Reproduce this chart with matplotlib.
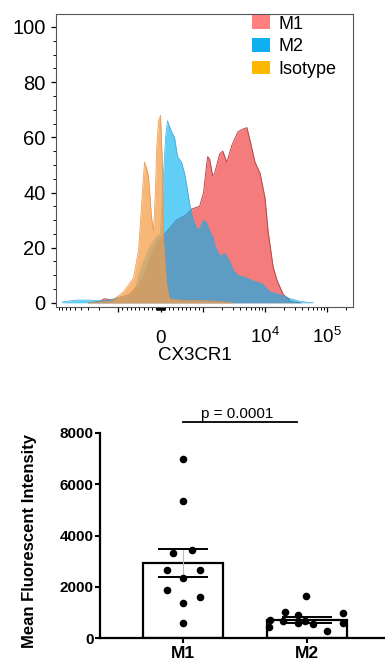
import numpy as np
import matplotlib
matplotlib.use("Agg")
import matplotlib.pyplot as plt
from matplotlib.patches import Patch
from matplotlib.ticker import FixedLocator, FixedFormatter, MultipleLocator

plt.rcParams['font.family'] = ['Liberation Sans', 'DejaVu Sans']

# --- histogram (CX3CR1 fluorescence, % of max) ---
m1_x = [-3000, -2000, -1660, -1280, -967, -730, -495, -377, -259, -141, -24, 47, 377, 613, 730, 920,
        1020, 1140, 1190, 1280, 1430, 1540, 1860, 2080, 2420, 2910, 3650, 4400, 5110, 5710, 6890,
        8310, 10000, 11200, 13500, 15700, 19700, 23700, 25600, 37200]
m1_y = [0, 0.5, 1.5, 1, 2, 3, 7, 10, 15, 20, 23, 24, 30, 32, 34, 35,
        40, 50, 53, 52, 46, 47, 54, 55, 51, 57, 62, 63, 63.5, 59, 51,
        47, 38, 26, 13, 8, 3, 1.5, 0.5, 0]

m2_x = [-8000, -4740, -2910, -2000, -1380, -967, -730, -613, -448, -259, -94, 0, 47, 118, 165, 212,
        259, 330, 400, 495, 565, 613, 684, 754, 849, 920, 1020, 1140, 1280, 1430, 1540, 1860, 2240,
        2700, 3030, 3650, 5110, 6400, 8950, 12100, 17600, 25600, 37200, 60500]
m2_y = [0.3, 1, 1, 0.8, 1, 2, 3, 4, 13, 20, 24, 25, 40, 60, 66, 64,
        62, 60, 53, 51, 47, 43, 36, 31, 27, 27, 30, 29, 26, 24, 21, 17, 18,
        15, 12, 10, 9, 8, 7, 4, 3, 1.5, 0.5, 0]

iso_x = [-3000, -2000, -1280, -872, -636, -518, -448, -377, -330, -283, -212, -165, -118, -94, -47,
         0, 47, 71, 141, 212, 448, 990, 2000, 3030]
iso_y = [0, 0.3, 0.5, 4, 9, 19, 35, 51, 49, 46, 31, 26, 41, 55, 66,
         68, 50, 23, 7, 1.5, 1, 0.8, 0.5, 0]

hist_labels = ['M1', 'M2', 'Isotype']
hist_colors = ['#FF8080', '#10B0F0', '#FFB800']

# --- MFI bar chart ---
groups = ['M1', 'M2']
bar_means = [2930, 700]
bar_sem = [545, 120]
m1_vals = [7000, 5330, 3330, 3440, 2660, 2660, 2330, 1870, 1610, 1380, 600]
m1_jit = [0, 0, -0.08, 0.07, -0.13, 0.14, 0, -0.13, 0.14, 0, 0]
m2_vals = [1640, 1030, 700, 440, 680, 900, 570, 680, 550, 270, 960, 570]
m2_jit = [-0.01, -0.18, -0.30, -0.31, -0.19, -0.07, -0.07, -0.02, 0.05, 0.16, 0.29, 0.29]
p_text = 'p = 0.0001'

fig = plt.figure(figsize=(3.85, 6.63), dpi=100)

# ---------------- top: histogram ----------------
ax1 = fig.add_axes([56/385, 1-307/663, 297/385, 293/663])
ax1.set_xscale('symlog', linthresh=1000, linscale=0.617)
ax1.fill_between(m1_x, 0, m1_y, color='#F47C7C', lw=0, zorder=1)
ax1.plot(m1_x, m1_y, color='#B84848', lw=0.7, zorder=1.5)
ax1.fill_between(m2_x, 0, m2_y, color='#00B0F0', alpha=0.62, lw=0, zorder=2)
ax1.plot(m2_x, m2_y, color='#3AA8DA', lw=0.5, zorder=2.5)
ax1.fill_between(iso_x, 0, iso_y, color='#F5A04A', alpha=0.75, lw=0, zorder=3)
ax1.plot(iso_x, iso_y, color='#E8934A', lw=0.5, zorder=3.5)
ax1.set_xlim(-10000, 262144)
ax1.set_ylim(-1.5, 104.7)

major = [-1000, 0, 1000, 10000, 100000]
ax1.xaxis.set_major_locator(FixedLocator(major))
ax1.xaxis.set_major_formatter(FixedFormatter(['', '0', '', r'$\mathregular{10^4}$', r'$\mathregular{10^5}$']))
minor = []
for e in (1, 2):
    for k in range(1, 10):
        minor += [k * 10**e, -k * 10**e]
for k in range(2, 10):
    minor += [k * 1000, -k * 1000, k * 10000]
minor += [200000]
ax1.xaxis.set_minor_locator(FixedLocator(minor))
ax1.tick_params(axis='x', which='major', length=3.8, width=0.9, direction='out', labelsize=13.5, pad=22)
ax1.tick_params(axis='x', which='minor', length=2.2, width=0.7, direction='out')
plt.setp(ax1.get_xticklabels(), va='baseline')

ax1.set_yticks([0, 20, 40, 60, 80, 100])
ax1.yaxis.set_minor_locator(MultipleLocator(5))
ax1.tick_params(axis='y', which='major', length=3.5, width=0.9, direction='out', labelsize=14.5, pad=4)
ax1.tick_params(axis='y', which='minor', length=2, width=0.7, direction='out')
for s in ax1.spines.values():
    s.set_color('#555555')
    s.set_linewidth(0.8)

ax1.set_xlabel('CX3CR1', fontsize=13.5)
ax1.xaxis.set_label_coords(0.468, -0.137)
ax1.xaxis.label.set_va('top')

handles = [Patch(facecolor=c, label=l) for c, l in zip(hist_colors, hist_labels)]
ax1.legend(handles=handles, loc='upper left', bbox_to_anchor=(0.66, 0.995), frameon=False,
           fontsize=13, handlelength=1.0, handleheight=0.8, handletextpad=0.45,
           labelspacing=0.3, borderpad=0, borderaxespad=0)

# ---------------- bottom: bar chart ----------------
ax2 = fig.add_axes([100/385, 25/663, 1-100/385, 205/663])
xpos = np.arange(len(groups))
ax2.bar(xpos, bar_means, width=0.64, color='white', edgecolor='black', linewidth=1.6, zorder=1)
ax2.errorbar(xpos, bar_means, yerr=bar_sem, fmt='none', ecolor='#bbbbbb', elinewidth=0.8, capsize=0, zorder=2)
for x, m, s in zip(xpos, bar_means, bar_sem):
    ax2.hlines([m + s, m - s], x - 0.2, x + 0.2, color='black', lw=1.4, zorder=2.5)
ax2.scatter(xpos[0] + np.array(m1_jit), m1_vals, s=30, color='black', zorder=3, linewidths=0)
ax2.scatter(xpos[1] + np.array(m2_jit), m2_vals, s=30, color='black', zorder=3, linewidths=0)

ax2.set_xlim(-0.669, 1.629)
ax2.set_ylim(0, 8000)
ax2.spines['top'].set_visible(False)
ax2.spines['right'].set_visible(False)
ax2.spines['left'].set_linewidth(1.6)
ax2.spines['bottom'].set_linewidth(1.6)
ax2.set_yticks([0, 2000, 4000, 6000, 8000])
ax2.set_xticks(xpos)
ax2.set_xticklabels(groups, fontsize=12.5, fontweight='bold')
ax2.tick_params(axis='y', length=3.6, width=1.5, labelsize=11, pad=1)
ax2.tick_params(axis='x', length=3.6, width=1.5, pad=2)
for lab in ax2.get_yticklabels():
    lab.set_fontweight('bold')

ax2.plot([0, 0.92], [8430, 8430], color='black', lw=1.3, clip_on=False)
ax2.text(0.44, 8740, p_text, ha='center', va='center', fontsize=11, clip_on=False)

fig.text(30/385, 1-541/663, 'Mean Fluorescent Intensity', rotation=90, ha='center', va='center',
         fontsize=12, fontweight='bold')

fig.savefig('out.png', dpi=100)
